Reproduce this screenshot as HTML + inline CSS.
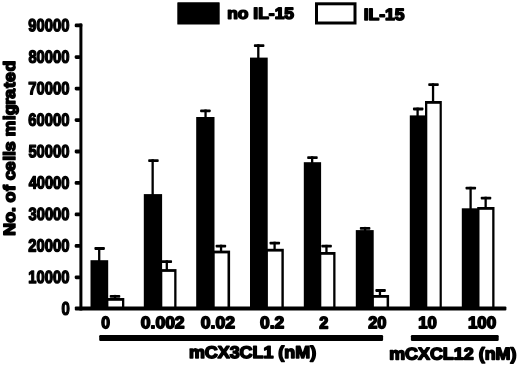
<!DOCTYPE html>
<html><head><meta charset="utf-8"><style>
html,body{margin:0;padding:0;background:#fff;width:520px;height:365px;overflow:hidden}
svg{display:block;filter:blur(0.4px)}
text{font-family:"Liberation Sans",sans-serif;font-weight:bold;font-kerning:none;fill:#000;text-rendering:geometricPrecision}
</style></head><body>
<svg width="520" height="365" viewBox="0 0 520 365">
<rect x="177.3" y="2.3" width="42.4" height="22.3" rx="0.6" fill="#000"/>
<text transform="translate(227.22 18.77) rotate(0.05) scale(1.0919 1)" font-size="15.98" stroke="#000" stroke-width="1.55" stroke-linejoin="round">no IL-15</text>
<rect x="316.5" y="3.8" width="38.5" height="19.2" fill="#fff" stroke="#000" stroke-width="3"/>
<text transform="translate(363.70 19.96) rotate(0.05) scale(1.0682 1)" font-size="16.41" stroke="#000" stroke-width="1.55" stroke-linejoin="round">IL-15</text>
<rect x="79.4" y="23.5" width="3.0" height="286.9" rx="0.5" fill="#000"/>
<rect x="74.7" y="275.44" width="6" height="3.8" rx="1.4" fill="#000"/>
<rect x="74.7" y="243.98" width="6" height="3.8" rx="1.4" fill="#000"/>
<rect x="74.7" y="212.52" width="6" height="3.8" rx="1.4" fill="#000"/>
<rect x="74.7" y="181.06" width="6" height="3.8" rx="1.4" fill="#000"/>
<rect x="74.7" y="149.60" width="6" height="3.8" rx="1.4" fill="#000"/>
<rect x="74.7" y="118.14" width="6" height="3.8" rx="1.4" fill="#000"/>
<rect x="74.7" y="86.68" width="6" height="3.8" rx="1.4" fill="#000"/>
<rect x="74.7" y="55.22" width="6" height="3.8" rx="1.4" fill="#000"/>
<rect x="74.7" y="23.50" width="7.6" height="3.8" rx="1.4" fill="#000"/>
<text transform="translate(61.39 314.75) rotate(0.05) scale(0.8105 1)" font-size="18.29" stroke="#000" stroke-width="1.35" stroke-linejoin="round">0</text>
<text transform="translate(28.34 282.99) rotate(0.05) scale(0.8402 1)" font-size="17.58" stroke="#000" stroke-width="1.35" stroke-linejoin="round">10000</text>
<text transform="translate(28.36 251.53) rotate(0.05) scale(0.8399 1)" font-size="17.58" stroke="#000" stroke-width="1.35" stroke-linejoin="round">20000</text>
<text transform="translate(28.54 220.05) rotate(0.05) scale(0.8380 1)" font-size="17.55" stroke="#000" stroke-width="1.35" stroke-linejoin="round">30000</text>
<text transform="translate(28.65 188.61) rotate(0.05) scale(0.8338 1)" font-size="17.58" stroke="#000" stroke-width="1.35" stroke-linejoin="round">40000</text>
<text transform="translate(28.42 157.15) rotate(0.05) scale(0.8386 1)" font-size="17.58" stroke="#000" stroke-width="1.35" stroke-linejoin="round">50000</text>
<text transform="translate(28.33 125.69) rotate(0.05) scale(0.8405 1)" font-size="17.58" stroke="#000" stroke-width="1.35" stroke-linejoin="round">60000</text>
<text transform="translate(28.24 94.23) rotate(0.05) scale(0.8424 1)" font-size="17.58" stroke="#000" stroke-width="1.35" stroke-linejoin="round">70000</text>
<text transform="translate(28.41 62.77) rotate(0.05) scale(0.8389 1)" font-size="17.58" stroke="#000" stroke-width="1.35" stroke-linejoin="round">80000</text>
<text transform="translate(28.36 31.15) rotate(0.05) scale(0.8399 1)" font-size="17.58" stroke="#000" stroke-width="1.35" stroke-linejoin="round">90000</text>
<rect x="98.05" y="247.10" width="2.3" height="14.10" fill="#000"/>
<rect x="94.40" y="247.10" width="10.5" height="2.8" rx="0.8" fill="#000"/>
<rect x="113.85" y="294.90" width="2.3" height="4.10" fill="#000"/>
<rect x="109.75" y="294.90" width="10.5" height="2.8" rx="0.8" fill="#000"/>
<rect x="90.50" y="260.20" width="17.70" height="48.30" fill="#000"/>
<rect x="106.10" y="298.00" width="18.20" height="10.50" fill="#000"/>
<rect x="108.40" y="300.80" width="13.60" height="7.70" fill="#fff"/>
<rect x="151.50" y="159.20" width="2.3" height="35.90" fill="#000"/>
<rect x="148.20" y="159.20" width="10.5" height="2.8" rx="0.8" fill="#000"/>
<rect x="165.65" y="260.30" width="2.3" height="9.80" fill="#000"/>
<rect x="161.55" y="260.30" width="10.5" height="2.8" rx="0.8" fill="#000"/>
<rect x="143.80" y="194.10" width="18.30" height="114.40" fill="#000"/>
<rect x="160.00" y="269.10" width="16.50" height="39.40" fill="#000"/>
<rect x="162.30" y="271.90" width="11.90" height="36.60" fill="#fff"/>
<rect x="204.40" y="109.50" width="2.3" height="8.50" fill="#000"/>
<rect x="200.15" y="109.50" width="10.5" height="2.8" rx="0.8" fill="#000"/>
<rect x="219.90" y="244.70" width="2.3" height="6.90" fill="#000"/>
<rect x="215.65" y="244.70" width="10.5" height="2.8" rx="0.8" fill="#000"/>
<rect x="196.20" y="117.00" width="18.30" height="191.50" fill="#000"/>
<rect x="212.40" y="250.60" width="17.70" height="57.90" fill="#000"/>
<rect x="214.70" y="253.40" width="12.80" height="55.10" fill="#fff"/>
<rect x="257.15" y="44.20" width="2.3" height="14.40" fill="#000"/>
<rect x="253.90" y="44.20" width="10.5" height="2.8" rx="0.8" fill="#000"/>
<rect x="273.45" y="241.70" width="2.3" height="8.10" fill="#000"/>
<rect x="269.55" y="241.70" width="10.5" height="2.8" rx="0.8" fill="#000"/>
<rect x="250.00" y="57.60" width="17.70" height="250.90" fill="#000"/>
<rect x="265.60" y="248.80" width="18.20" height="59.70" fill="#000"/>
<rect x="267.90" y="251.60" width="13.50" height="56.90" fill="#fff"/>
<rect x="311.00" y="156.30" width="2.3" height="6.90" fill="#000"/>
<rect x="307.20" y="156.30" width="10.5" height="2.8" rx="0.8" fill="#000"/>
<rect x="325.30" y="244.80" width="2.3" height="8.20" fill="#000"/>
<rect x="321.35" y="244.80" width="10.5" height="2.8" rx="0.8" fill="#000"/>
<rect x="303.80" y="162.20" width="17.30" height="146.30" fill="#000"/>
<rect x="319.00" y="252.00" width="16.50" height="56.50" fill="#000"/>
<rect x="321.30" y="254.80" width="11.90" height="53.70" fill="#fff"/>
<rect x="363.95" y="226.90" width="2.3" height="4.20" fill="#000"/>
<rect x="359.85" y="226.90" width="10.5" height="2.8" rx="0.8" fill="#000"/>
<rect x="378.80" y="289.10" width="2.3" height="6.90" fill="#000"/>
<rect x="375.35" y="289.10" width="10.5" height="2.8" rx="0.8" fill="#000"/>
<rect x="355.80" y="230.10" width="17.90" height="78.40" fill="#000"/>
<rect x="371.60" y="295.00" width="17.50" height="13.50" fill="#000"/>
<rect x="373.90" y="297.80" width="12.70" height="10.70" fill="#fff"/>
<rect x="416.45" y="107.60" width="2.3" height="8.80" fill="#000"/>
<rect x="412.95" y="107.60" width="10.5" height="2.8" rx="0.8" fill="#000"/>
<rect x="431.90" y="83.30" width="2.3" height="18.70" fill="#000"/>
<rect x="428.25" y="83.30" width="10.5" height="2.8" rx="0.8" fill="#000"/>
<rect x="409.80" y="115.40" width="17.30" height="193.10" fill="#000"/>
<rect x="425.00" y="101.00" width="16.80" height="207.50" fill="#000"/>
<rect x="427.30" y="103.80" width="12.30" height="204.70" fill="#fff"/>
<rect x="469.45" y="186.80" width="2.3" height="22.50" fill="#000"/>
<rect x="465.55" y="186.80" width="10.5" height="2.8" rx="0.8" fill="#000"/>
<rect x="484.50" y="196.70" width="2.3" height="11.30" fill="#000"/>
<rect x="480.75" y="196.70" width="10.5" height="2.8" rx="0.8" fill="#000"/>
<rect x="461.80" y="208.30" width="17.50" height="100.20" fill="#000"/>
<rect x="477.20" y="207.00" width="17.30" height="101.50" fill="#000"/>
<rect x="479.50" y="209.80" width="12.70" height="98.70" fill="#fff"/>
<rect x="74.8" y="306.6" width="431.6" height="4.0" rx="1" fill="#000"/>
<text transform="translate(101.26 328.26) rotate(0.05) scale(0.9359 1)" font-size="16.74" stroke="#000" stroke-width="1.55" stroke-linejoin="round">0</text>
<text transform="translate(140.78 328.26) rotate(0.05) scale(1.0468 1)" font-size="16.74" stroke="#000" stroke-width="1.55" stroke-linejoin="round">0.002</text>
<text transform="translate(200.78 328.26) rotate(0.05) scale(1.0482 1)" font-size="16.74" stroke="#000" stroke-width="1.55" stroke-linejoin="round">0.02</text>
<text transform="translate(259.99 328.26) rotate(0.05) scale(1.0372 1)" font-size="16.74" stroke="#000" stroke-width="1.55" stroke-linejoin="round">0.2</text>
<text transform="translate(319.31 328.42) rotate(0.05) scale(0.9608 1)" font-size="16.97" stroke="#000" stroke-width="1.55" stroke-linejoin="round">2</text>
<text transform="translate(368.20 328.26) rotate(0.05) scale(0.9827 1)" font-size="16.74" stroke="#000" stroke-width="1.55" stroke-linejoin="round">20</text>
<text transform="translate(418.22 328.26) rotate(0.05) scale(0.9985 1)" font-size="16.74" stroke="#000" stroke-width="1.55" stroke-linejoin="round">10</text>
<text transform="translate(467.90 328.26) rotate(0.05) scale(1.0178 1)" font-size="16.74" stroke="#000" stroke-width="1.55" stroke-linejoin="round">100</text>
<rect x="99.2" y="335.0" width="283.9" height="6.0" rx="1.2" fill="#000"/>
<rect x="410.9" y="335.0" width="87.8" height="6.0" rx="1.2" fill="#000"/>
<text transform="translate(188.89 357.92) rotate(0.05) scale(1.0573 1)" font-size="16.93" stroke="#000" stroke-width="1.55" stroke-linejoin="round">mCX3CL1 (nM)</text>
<text transform="translate(389.19 359.52) rotate(0.05) scale(1.0573 1)" font-size="16.93" stroke="#000" stroke-width="1.55" stroke-linejoin="round">mCXCL12 (nM)</text>
<text transform="translate(14.92 234.70) rotate(-89.95) scale(1.0825 1)" font-size="16.35" dx="-0.87 0.04 0.09 0.00 -0.36 0.67 0.00 -0.19 -0.65 0.53 -0.06 -0.36 0.00 0.00 0.61 0.10 -0.54 -0.77 0.97 0.13 0.54" stroke="#000" stroke-width="1.55" stroke-linejoin="round">No. of cells migrated</text>
</svg>
</body></html>
